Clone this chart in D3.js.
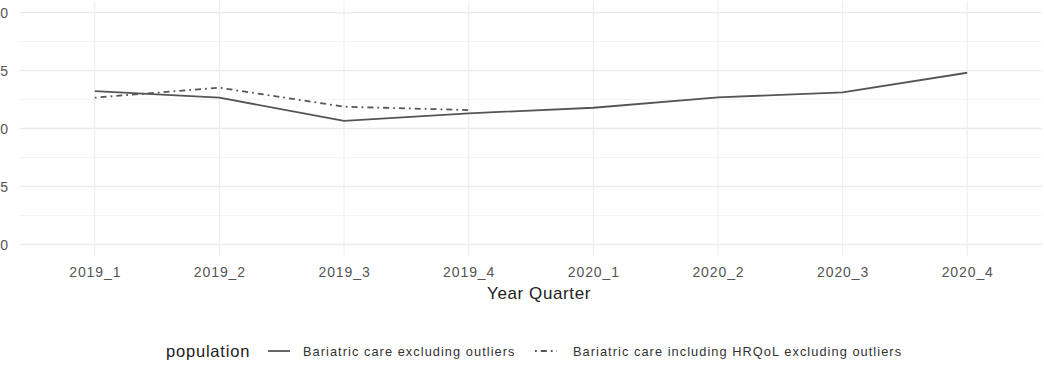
<!DOCTYPE html>
<html>
<head>
<meta charset="utf-8">
<script src="https://cdn.jsdelivr.net/npm/d3@7"></script>
<style>
  html, body { margin: 0; padding: 0; background: #fff; }
  svg { display: block; font-family: "Liberation Sans", Arial, Helvetica, sans-serif; }
</style>
</head>
<body>
<svg id="chart" width="1044" height="366"></svg>
<script>
// Quarterly series, one value per quarter
const quarters = ["2019_1", "2019_2", "2019_3", "2019_4", "2020_1", "2020_2", "2020_3", "2020_4"];
const excludingOutliers = [13.23, 12.66, 10.65, 11.31, 11.79, 12.69, 13.12, 14.81];
const hrqolQuarters = ["2019_1", "2019_2", "2019_3", "2019_4"];
const hrqolExcludingOutliers = [12.66, 13.52, 11.88, 11.59];
const yTicks = [0, 5, 10, 15, 20];
const yMinor = [2.5, 7.5, 12.5, 17.5];
const seriesNames = ["Bariatric care excluding outliers", "Bariatric care including HRQoL excluding outliers"];

const svg = d3.select("#chart");
const panel = { left: 20, right: 1042, top: 1, bottom: 256 };

const x = d3.scalePoint().domain(quarters).range([panel.left, panel.right]).padding(0.6);
const y = d3.scaleLinear().domain([-1, 21]).range([panel.bottom, panel.top]);

// grid
const grid = svg.append("g");
grid.selectAll("line.minor").data(yMinor).join("line")
  .attr("x1", panel.left).attr("x2", panel.right)
  .attr("y1", d => y(d)).attr("y2", d => y(d))
  .attr("stroke", "#f4f4f4").attr("stroke-width", 1);
grid.selectAll("line.major").data(yTicks).join("line")
  .attr("x1", panel.left).attr("x2", panel.right)
  .attr("y1", d => y(d)).attr("y2", d => y(d))
  .attr("stroke", "#ebebeb").attr("stroke-width", 1.3);
grid.selectAll("line.vert").data(quarters).join("line")
  .attr("x1", d => x(d)).attr("x2", d => x(d))
  .attr("y1", panel.top).attr("y2", panel.bottom)
  .attr("stroke", "#eeeeee").attr("stroke-width", 1.2);

// y axis labels (right-aligned at the panel edge)
const yAxis = d3.axisLeft(y).tickValues(yTicks).tickSize(0).tickPadding(0);
const yg = svg.append("g").attr("transform", "translate(8,0)").call(yAxis);
yg.select(".domain").remove();
yg.selectAll("text").attr("fill", "#555").attr("font-size", 14)
  .attr("font-family", "Liberation Sans, Arial, sans-serif").attr("dy", "0.36em");

// x axis labels
const xAxis = d3.axisBottom(x).tickSize(0).tickPadding(0);
const xg = svg.append("g").attr("transform", "translate(0,264)").call(xAxis);
xg.select(".domain").remove();
xg.selectAll("text").attr("fill", "#555").attr("font-size", 14)
  .attr("font-family", "Liberation Sans, Arial, sans-serif")
  .attr("letter-spacing", 0.9).attr("dy", "0.92em");

svg.append("text")
  .attr("x", (panel.left + panel.right) / 2 + 8).attr("y", 299)
  .attr("text-anchor", "middle").attr("font-size", 17).attr("letter-spacing", 0.6)
  .attr("fill", "#222").text("Year Quarter");

// lines
const line = d3.line().x(d => x(d.q)).y(d => y(d.v));
const solidData = quarters.map((q, i) => ({ q, v: excludingOutliers[i] }));
const dashData = hrqolQuarters.map((q, i) => ({ q, v: hrqolExcludingOutliers[i] }));

svg.append("path").datum(solidData).attr("d", line)
  .attr("fill", "none").attr("stroke", "#555").attr("stroke-width", 1.8)
  .attr("stroke-linejoin", "round");
svg.append("path").datum(dashData).attr("d", line)
  .attr("fill", "none").attr("stroke", "#555").attr("stroke-width", 1.8)
  .attr("stroke-dasharray", "1.8,4,6,4");

// legend
const lg = svg.append("g");
lg.append("text").attr("x", 166).attr("y", 357).attr("font-size", 16.5)
  .attr("letter-spacing", 0.8).attr("fill", "#222").text("population");

const keys = [
  { x0: 268, x1: 290, tx: 303, dash: null, label: seriesNames[0] },
  { x0: 535, x1: 557, tx: 573, dash: "1.8,4,6,4", label: seriesNames[1] }
];
keys.forEach(k => {
  lg.append("line").attr("x1", k.x0).attr("x2", k.x1).attr("y1", 351).attr("y2", 351)
    .attr("stroke", "#555").attr("stroke-width", 1.8)
    .attr("stroke-dasharray", k.dash);
  lg.append("text").attr("x", k.tx).attr("y", 356).attr("font-size", 12.8)
    .attr("letter-spacing", 1.05).attr("fill", "#333").text(k.label);
});
</script>
</body>
</html>
